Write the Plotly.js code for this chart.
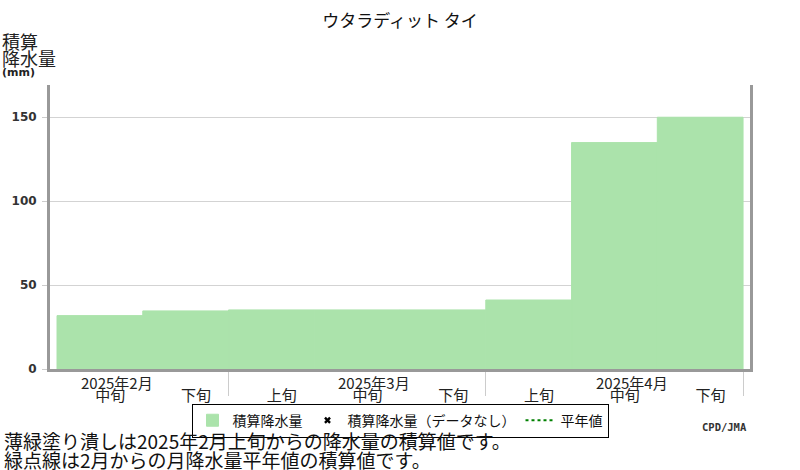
<!DOCTYPE html>
<html>
<head>
<meta charset="utf-8">
<script src="https://cdn.plot.ly/plotly-3.0.1.min.js"></script>
<style>
body { margin: 0; background: white; }
#div_graphe { width: 800px; height: 470px; }
</style>
</head>
<body>
<div id="div_graphe"></div>
<script>
// valeurs (mm, cumul par decade)
let decades = ["中旬", "下旬", "上旬", "中旬", "下旬", "上旬", "中旬", "下旬"]
let mois = ["2025年2月", "2025年3月", "2025年4月"]
let debut_mois = [2, 5, 8]
let cumul = [31.8, 34.6, 35.2, 35.2, 35.2, 41.1, 134.9, 150.0]
let graduations_y = [0, 50, 100, 150]

let police = "Noto Sans CJK JP, Noto Sans, sans-serif"
let vert = "#abe3ab"

function tracer_cumul(){
    let div = document.getElementById("div_graphe")
    let x = new Array()
    let x_labels = new Array()
    for (let i = 0; i < cumul.length; i++){
        x.push(i + 0.5)
        x_labels.push(i + 0.62)
    }
    let data = [
        {x : x, y : cumul, type : "bar", width : 1, name : "積算降水量",
            marker : {color : vert, line : {width : 1, color : vert}}},
        {x : [null], y : [null], mode : "markers", type : "scatter", name : "積算降水量（データなし）",
            marker : {symbol : "x", size : 6, color : "black"}},
        {x : [null], y : [null], mode : "lines", type : "scatter", name : "平年値",
            line : {dash : "dot", width : 2, color : "green"}}
    ]
    let annotations = new Array()
    // mois au-dessus de la decade du milieu
    let k = 0
    for (let i = 0; i < decades.length; i++){
        if (decades[i] == "中旬" && k < mois.length){
            annotations.push({x : i + 0.7, xref : "x", y : -0.049, yref : "paper",
                text : mois[k], showarrow : false, xanchor : "center", yanchor : "middle",
                font : {family : police, size : 15, color : "#222"}})
            k++
        }
    }
    annotations.push({x : -0.0714, xref : "paper", y : 1.155, yref : "paper", text : "積算",
        showarrow : false, xanchor : "left", yanchor : "middle",
        font : {family : police, size : 18, color : "#222"}})
    annotations.push({x : -0.0714, xref : "paper", y : 1.095, yref : "paper", text : "降水量",
        showarrow : false, xanchor : "left", yanchor : "middle",
        font : {family : police, size : 18, color : "#222"}})
    annotations.push({x : -0.071, xref : "paper", y : 1.045, yref : "paper", text : "(mm)",
        showarrow : false, xanchor : "left", yanchor : "middle",
        font : {family : "DejaVu Sans", size : 11, color : "#222", weight : "bold"}})
    annotations.push({x : -0.0686, xref : "paper", y : -0.252, yref : "paper",
        text : "薄緑塗り潰しは2025年2月上旬からの降水量の積算値です。",
        showarrow : false, xanchor : "left", yanchor : "middle",
        font : {family : police, size : 19, color : "#111"}})
    annotations.push({x : -0.0686, xref : "paper", y : -0.318, yref : "paper",
        text : "緑点線は2月からの月降水量平年値の積算値です。",
        showarrow : false, xanchor : "left", yanchor : "middle",
        font : {family : police, size : 19, color : "#111"}})
    annotations.push({x : 0.999, xref : "paper", y : -0.204, yref : "paper", text : "CPD/JMA",
        showarrow : false, xanchor : "right", yanchor : "middle",
        font : {family : "DejaVu Sans Mono", size : 10.5, color : "#333", weight : "bold"}})

    let layout = {
        title : {
            text : "ウタラディット タイ",
            x : 0.5, xref : "container", xanchor : "center",
            y : 0.955, yref : "container", yanchor : "middle",
            font : {family : police, size : 17, color : "#111"}
        },
        xaxis : {
            range : [-0.082, 8.081],
            tickmode : "array",
            tickvals : x_labels,
            ticktext : decades,
            ticks : "",
            ticklabelstandoff : 11,
            tickfont : {family : police, size : 15, color : "#222"},
            showgrid : false,
            zeroline : false,
            showline : true,
            linecolor : "#999",
            linewidth : 3,
            minor : {
                tickmode : "array",
                tickvals : debut_mois,
                ticks : "outside",
                ticklen : 24,
                tickwidth : 1,
                tickcolor : "#ccc",
                showgrid : false
            }
        },
        yaxis : {
            range : [0, 169.2],
            tickmode : "array",
            tickvals : graduations_y,
            ticks : "outside",
            ticklen : 5,
            tickcolor : "#ccc",
            ticklabelstandoff : 3,
            tickfont : {family : "DejaVu Sans", size : 12, color : "#333", weight : "bold"},
            showgrid : true,
            gridcolor : "#d3d3d3",
            gridwidth : 1,
            zeroline : false,
            showline : true,
            mirror : true,
            linecolor : "#999",
            linewidth : 3
        },
        showlegend : true,
        legend : {
            orientation : "h",
            x : 0.5, xanchor : "center",
            y : -0.122, yanchor : "top",
            bordercolor : "black",
            borderwidth : 1,
            font : {family : police, size : 14, color : "#111"},
            itemwidth : 30,
            tracegroupgap : 0
        },
        annotations : annotations,
        paper_bgcolor : "white",
        plot_bgcolor : "white",
        margin : {l : 50, r : 50, t : 85, b : 101, pad : 0},
        width : 800,
        height : 470
    }
    Plotly.newPlot(div, data, layout, {staticPlot : true})
}

tracer_cumul()
</script>
</body>
</html>
